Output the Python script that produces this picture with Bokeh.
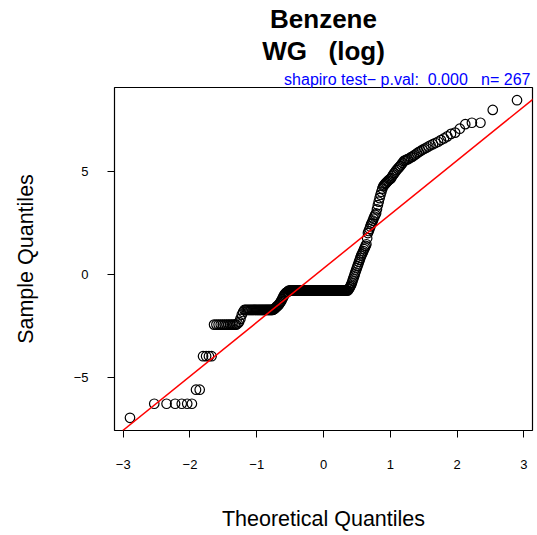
import numpy as np
from statistics import NormalDist
from bokeh.plotting import figure
from bokeh.models import Slope, FixedTicker, Range1d, Title
from bokeh.embed import file_html
from bokeh.resources import INLINE

# Sorted sample values (run-length: value, count)
run_values = [-6.94, -6.26, -5.58, -3.96, -2.43,
              -2.38, -2.30, -2.15, -1.95, -1.82,
              -1.72,
              -1.70, -1.67, -1.64, -1.60, -1.56, -1.52, -1.49, -1.45, -1.40, -1.34,
              -1.27, -1.20, -1.12, -1.05, -0.99, -0.94, -0.90, -0.87, -0.85, -0.83,
              -0.78]
run_counts = [1, 6, 2, 4, 13,
              1, 1, 1, 1, 1,
              29,
              1, 1, 1, 1, 1, 1, 1, 1, 1, 1,
              1, 1, 1, 1, 1, 1, 1, 1, 1, 1,
              92]
upper_values = [-0.72, -0.68, -0.62, -0.56, -0.49, -0.40, -0.30, -0.20, -0.10, 0.00,
                0.10, 0.20, 0.30, 0.40, 0.49, 0.60, 0.70, 0.80, 0.90, 0.97,
                1.05, 1.13, 1.22, 1.30, 1.38, 1.46, 1.75, 2.00, 2.10, 2.20,
                2.32, 2.43, 2.50, 2.60, 2.70, 2.80, 2.88, 2.96, 3.15, 3.35,
                3.52, 3.69, 3.85, 4.00, 4.15, 4.27, 4.32, 4.38, 4.43, 4.48,
                4.53, 4.58, 4.62, 4.66, 4.75, 4.83, 4.90, 4.98, 5.05, 5.12,
                5.18, 5.24, 5.32, 5.40, 5.49, 5.52, 5.55, 5.58, 5.62, 5.66,
                5.70, 5.75, 5.80, 5.86, 5.92, 5.97, 6.03, 6.08, 6.13, 6.19,
                6.25, 6.30, 6.36, 6.42, 6.50, 6.58, 6.68, 6.80, 6.86, 7.05,
                7.27, 7.34, 7.34, 7.96, 8.43]

x_ticks = [-3, -2, -1, 0, 1, 2, 3]
x_tick_labels = ["\u22123", "\u22122", "\u22121", "0", "1", "2", "3"]
y_ticks = [-5, 0, 5]
y_tick_labels = ["\u22125", "0", "5"]

title_line1 = "Benzene"
title_line2 = "WG\u00a0\u00a0\u00a0(log)"
subtitle = "shapiro test\u2212 p.val:\u00a0\u00a00.000\u00a0\u00a0\u00a0n= 267"

sample = np.concatenate([np.repeat(run_values, run_counts), np.array(upper_values)])
sample = np.sort(sample)
n = len(sample)
nd = NormalDist()
theo = np.array([nd.inv_cdf((i - 0.5) / n) for i in range(1, n + 1)])

# qqline through the quartiles
q_y = np.quantile(sample, [0.25, 0.75])
q_x = np.array([nd.inv_cdf(0.25), nd.inv_cdf(0.75)])
slope = (q_y[1] - q_y[0]) / (q_x[1] - q_x[0])
intercept = q_y[0] - slope * q_x[0]

xr = theo.max() - theo.min()
yr = sample.max() - sample.min()
FONT = "Liberation Sans"

p = figure(width=537, height=535, output_backend="svg", toolbar_location=None,
           x_range=Range1d(theo.min() - 0.04 * xr, theo.max() + 0.04 * xr),
           y_range=Range1d(sample.min() - 0.04 * yr, sample.max() + 0.04 * yr),
           min_border_left=114, min_border_right=5, min_border_top=87, min_border_bottom=105)
p.title.visible = False
p.grid.visible = False
p.outline_line_color = "black"
p.outline_line_width = 1.2
p.background_fill_color = "white"
p.border_fill_color = "white"

p.scatter(theo, sample, size=9.5, fill_color=None, line_color="black", line_width=1.2)
p.add_layout(Slope(gradient=slope, y_intercept=intercept, line_color="red", line_width=1.5))

for ax in (p.xaxis[0], p.yaxis[0]):
    ax.axis_line_color = None
    ax.major_tick_in = 0
    ax.major_tick_out = 7
    ax.minor_tick_line_color = None
    ax.major_tick_line_color = "black"
    ax.major_label_text_font = FONT
    ax.major_label_text_font_size = "13px"
    ax.major_label_text_color = "black"
    ax.axis_label_text_font = FONT
    ax.axis_label_text_font_style = "normal"
    ax.axis_label_text_font_size = "21.5px"
    ax.axis_label_text_color = "black"

p.xaxis.ticker = FixedTicker(ticks=x_ticks)
p.xaxis.major_label_overrides = dict(zip(x_ticks, x_tick_labels))
p.yaxis.ticker = FixedTicker(ticks=y_ticks)
p.yaxis.major_label_overrides = dict(zip(y_ticks, y_tick_labels))
p.yaxis.major_label_orientation = "horizontal"
p.xaxis.major_label_standoff = 22
p.yaxis.major_label_standoff = 19
p.xaxis.axis_label = "Theoretical Quantiles"
p.yaxis.axis_label = "Sample Quantiles"
p.xaxis.axis_label_standoff = 35
p.yaxis.axis_label_standoff = 33

# Titles stacked above the frame: first added is closest to the frame
p.add_layout(Title(text=subtitle, align="right", text_font=FONT, text_font_size="16px",
                   text_font_style="normal", text_color="blue", standoff=0, offset=2), "above")
p.add_layout(Title(text=title_line2, align="center", text_font=FONT, text_font_size="26px",
                   text_font_style="bold", text_color="black", standoff=5), "above")
p.add_layout(Title(text=title_line1, align="center", text_font=FONT, text_font_size="26px",
                   text_font_style="bold", text_color="black", standoff=-4), "above")

open("out.html", "w").write(file_html(p, INLINE))
